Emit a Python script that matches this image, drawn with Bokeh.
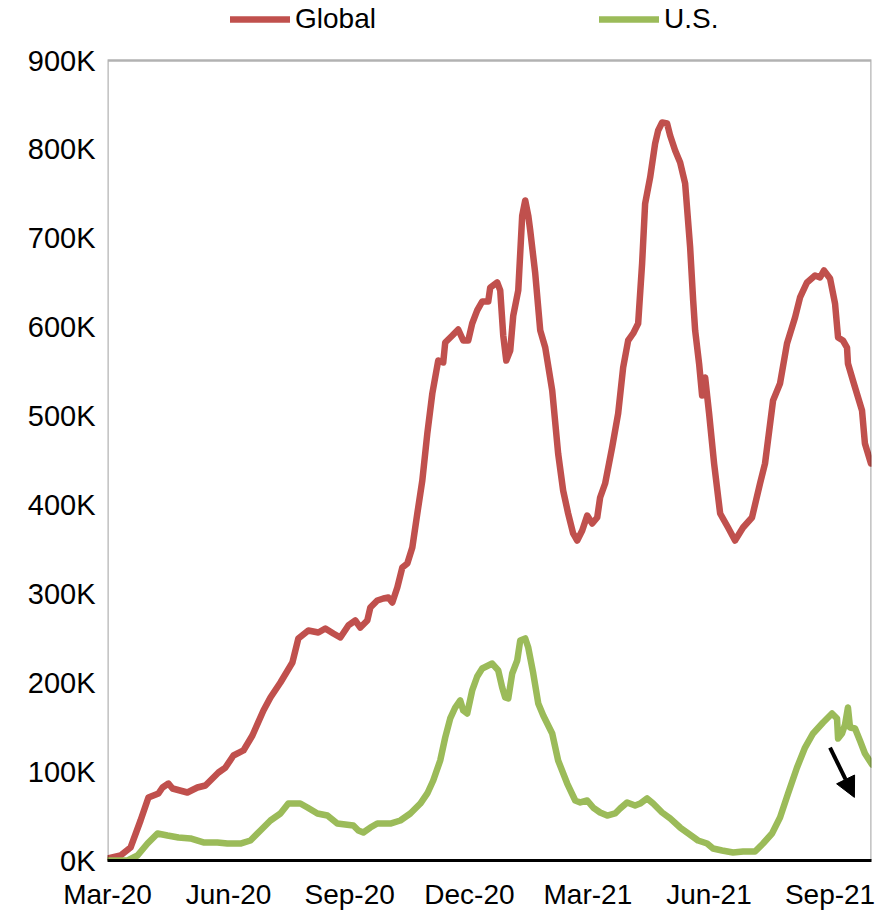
import pandas as pd
from bokeh.plotting import figure
from bokeh.models import (Legend, LegendItem, FixedTicker, DatetimeTickFormatter,
                          Range1d, Arrow, NormalHead, BoxAnnotation)
from bokeh.embed import file_html
from bokeh.resources import INLINE

# ---------------- data (7-day average of new daily cases, thousands) ----------------
START = "2020-03-01"  # day offsets below are counted from this date
global_day = [0, 9.9, 17.5, 25.1, 31.1, 38.7, 41.8, 46.3, 49.4, 60.7, 68.3, 74.4, 84.3, 89.6,
              95.7, 103.3, 110.1, 118.5, 123.8, 131.4, 140.5, 145, 152.6, 160.2, 165.5, 171.6,
              176.9, 183, 188.3, 192.1, 197.4, 199.7, 205, 209.6, 213.4, 216.4, 220.2, 224,
              227.8, 231.6, 235.4, 239.2, 243, 246.8, 251.3, 255.1, 256.6, 262, 266.5, 270.3,
              274.1, 277.1, 280.9, 284.7, 289.3, 290.8, 296.1, 298.4, 300.7, 303, 306, 308.3,
              312.1, 315.1, 317.4, 319.7, 321.2, 325, 328.8, 332.6, 337.9, 342.4, 346.2, 350,
              353.8, 356.9, 360.7, 364.5, 368.3, 372.1, 374.3, 378.1, 383.4, 388, 391.8, 395.6,
              399.4, 403.2, 406.2, 408.5, 412.3, 416.1, 418.4, 421.4, 425.2, 427.5, 431.3,
              435.1, 438.9, 442.7, 445, 446.5, 449.5, 451.8, 454.1, 457.1, 460.9, 465.5, 471.5,
              476.8, 482.9, 489.7, 495.8, 499.6, 505.7, 511, 516.3, 522.4, 526.2, 531.5, 537.6,
              541.4, 544.4, 549, 552.8, 555.1, 558.8, 561.9, 562.6, 566.4, 573.3, 575.5, 580.1]
global_cases = [2.3, 5.6, 14.6, 45, 70.9, 75.4, 82.1, 86.6, 81, 76.5, 82.1, 84.4, 99, 104.6,
                118.1, 123.8, 140.6, 168.8, 183.4, 200.3, 222.8, 249.8, 258.8, 256.5, 261, 255.4,
                250.9, 264.4, 270, 262.1, 270, 284.6, 292.5, 294.8, 295.9, 290.3, 307.1, 329.6,
                334.1, 352.1, 390.4, 427.5, 480.4, 525.4, 562.5, 560.3, 582.8, 590.6, 597.4, 585,
                585, 604.1, 618.8, 628.9, 628.9, 644.6, 650.3, 641.3, 590.6, 562.5, 573.8, 613.1,
                641.3, 725.6, 742.5, 725.6, 708.8, 660.4, 596.3, 577.1, 528.8, 457.9, 416.3, 390.4,
                367.9, 360, 371.3, 388.1, 379.1, 385.9, 408.4, 424.1, 464.6, 502.9, 554.6, 585,
                592.9, 604.1, 671.6, 739.1, 768.4, 806.6, 821.3, 830.3, 829.1, 815.6, 798.8,
                785.3, 761.6, 689.6, 630, 596.3, 559.1, 523.1, 543.4, 502.9, 446.6, 390.4, 374.6,
                360, 374.6, 385.9, 424.1, 446.6, 517.5, 536.6, 581.6, 610.9, 633.4, 650.3, 658.1,
                655.9, 663.8, 654.8, 626.6, 588.4, 585, 577.1, 559.1, 540, 506.3, 469.1, 446.6]

us_day = [0, 15.2, 22.8, 30.4, 38, 45.6, 53.9, 63, 72.9, 83.5, 91.1, 101, 108.6, 116.2, 123.8,
          131.4, 137.4, 146.5, 151.9, 159.5, 167.1, 174.6, 186.8, 190.6, 194.4, 199.7, 205,
          214.9, 222.5, 230.1, 237.7, 243, 247.5, 252.8, 256.6, 260.4, 264.2, 268, 270.3, 273.3,
          277.1, 280.9, 284.7, 289.3, 292.3, 296.9, 299.9, 302.2, 304.5, 307.5, 311.3, 313.6,
          317.4, 319.7, 323.5, 327.3, 331.1, 337.9, 342.4, 349.3, 355.4, 359.2, 364.5, 369,
          374.3, 379.7, 385.7, 389.5, 394.8, 400.9, 404.7, 410, 414.6, 421.4, 427.5, 435.1,
          441.2, 448.7, 455.6, 460.1, 467, 475.3, 482.9, 492, 498.1, 504.9, 511, 517.1, 523.9,
          530, 536.1, 543.7, 550.5, 554.3, 555.1, 558.1, 560.4, 562.6, 564.2, 568, 571.7,
          575.5, 580.9]
us_cases = [0, 0, 5.6, 19.1, 30.4, 28.1, 25.9, 24.8, 20.3, 20.3, 19.1, 19.1, 22.5, 33.8, 45,
            52.9, 64.1, 64.1, 59.6, 52.9, 50.6, 41.6, 39.4, 33.8, 31.5, 37.1, 41.6, 41.6, 45,
            52.9, 64.1, 75.4, 90, 112.5, 138.4, 159.8, 172.1, 180, 168.8, 165.4, 191.3, 207, 216,
            219.4, 221.6, 213.8, 194.6, 183.4, 182.3, 210.4, 225, 247.5, 249.8, 239.6, 210.4,
            176.6, 163.1, 142.9, 112.5, 86.6, 67.5, 65.3, 67.5, 59.6, 54, 50.6, 52.9, 58.5, 65.3,
            61.9, 64.1, 69.8, 64.1, 54, 47.3, 37.1, 30.4, 22.5, 19.1, 13.5, 11.3, 9, 10.1, 10.1,
            19.1, 30.4, 48.4, 75.4, 104.6, 127.1, 142.9, 155.3, 165.4, 159.8, 137.3, 142.9, 153,
            172.1, 149.6, 148.5, 135, 120.4, 108]

series_names = ["Global", "U.S."]
x_tick_dates = ["2020-03-01", "2020-06-01", "2020-09-01", "2020-12-01",
                "2021-03-01", "2021-06-01", "2021-09-01"]
y_tick_values = [0, 100, 200, 300, 400, 500, 600, 700, 800, 900]
y_tick_labels = ["0K", "100K", "200K", "300K", "400K", "500K", "600K", "700K", "800K", "900K"]
y_axis_max = 900
x_end_day = 580.5

# annotation arrow (day offset, thousands)
arrow_from = (549, 127)
arrow_to = (567.5, 71)

# ---------------- chart ----------------
RED = "#C0504D"
GREEN = "#9BBB59"
FONT = "Liberation Sans"

start = pd.Timestamp(START)
x_end = start + pd.Timedelta(days=x_end_day)


def to_dates(days):
    return [start + pd.Timedelta(days=d) for d in days]


# The frame reaches the top of the canvas so that the legend (drawn inside the frame's
# area) is not clipped; the visible chart box is drawn from 0 to y_axis_max.
FRAME_H = 860          # px, 60 px of which are the legend strip above the box
BOX_H = 800            # px, height of the visible chart box
p = figure(width=878, height=913, x_axis_type="datetime",
           output_backend="svg", toolbar_location=None,
           min_border_left=107, min_border_right=7, min_border_top=0, min_border_bottom=53)

p.x_range = Range1d(start, x_end)
p.y_range = Range1d(0, y_axis_max * FRAME_H / BOX_H)

r_global = p.line(to_dates(global_day), global_cases, line_color=RED, line_width=6.5,
                  line_join="round", line_cap="round")
r_us = p.line(to_dates(us_day), us_cases, line_color=GREEN, line_width=6.5,
              line_join="round", line_cap="round")

# chart box
p.xgrid.visible = False
p.ygrid.visible = False
p.outline_line_color = None
p.add_layout(BoxAnnotation(left=start, right=x_end, bottom=0, top=y_axis_max,
                           fill_alpha=0, line_color="black", line_width=2.5))

xa = p.xaxis[0]
xa.ticker = FixedTicker(ticks=[pd.Timestamp(d).value / 1e6 for d in x_tick_dates])
xa.formatter = DatetimeTickFormatter(days="%b-%y", months="%b-%y", years="%b-%y")
xa.axis_line_width = 3
xa.axis_line_color = "black"

ya = p.yaxis[0]
ya.ticker = FixedTicker(ticks=y_tick_values)
ya.major_label_overrides = {v: l for v, l in zip(y_tick_values, y_tick_labels)}
ya.axis_line_color = None

for ax in (xa, ya):
    ax.major_tick_line_color = None
    ax.minor_tick_line_color = None
    ax.major_tick_in = 0
    ax.major_tick_out = 0
    ax.minor_tick_in = 0
    ax.minor_tick_out = 0
    ax.major_label_text_font = FONT
    ax.major_label_text_color = "black"
xa.major_label_text_font_size = "28px"
ya.major_label_text_font_size = "29px"
xa.major_label_standoff = 18
ya.major_label_standoff = 12

# arrow annotation
p.add_layout(Arrow(end=NormalHead(size=20, fill_color="black", line_color="black"),
                   x_start=start + pd.Timedelta(days=arrow_from[0]), y_start=arrow_from[1],
                   x_end=start + pd.Timedelta(days=arrow_to[0]), y_end=arrow_to[1],
                   line_width=4, line_color="black"))

# legend in the strip above the box (location = bottom-left corner from frame bottom-left)
legend = Legend(items=[LegendItem(label=series_names[0], renderers=[r_global]),
                       LegendItem(label=series_names[1], renderers=[r_us])],
                orientation="horizontal", location=(123, 825),
                spacing=219, glyph_width=60, glyph_height=30, label_height=30,
                label_width=85, label_standoff=5, padding=0, margin=0,
                label_text_font=FONT, label_text_font_size="28px", label_text_color="black",
                border_line_color=None, background_fill_alpha=0)
p.add_layout(legend, "center")

open("out.html", "w").write(file_html(p, INLINE))
